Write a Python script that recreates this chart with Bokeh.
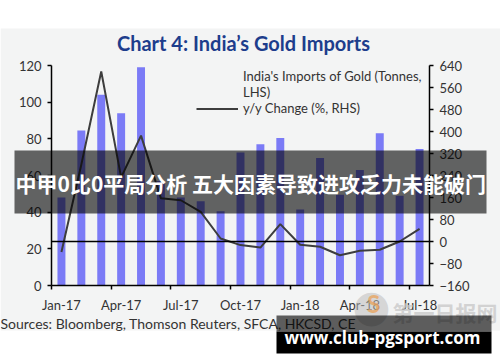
from bokeh.plotting import figure
from bokeh.models import (Range1d, LinearAxis, FixedTicker, Legend, LegendItem,
                          Label, BoxAnnotation, ColumnDataSource)
from bokeh.embed import file_html
from bokeh.resources import INLINE

# ---- data ----
months = ["Jan-17", "Feb-17", "Mar-17", "Apr-17", "May-17", "Jun-17", "Jul-17",
          "Aug-17", "Sep-17", "Oct-17", "Nov-17", "Dec-17", "Jan-18", "Feb-18",
          "Mar-18", "Apr-18", "May-18", "Jun-18", "Jul-18"]
imports_tonnes = [48, 84.5, 104, 94, 119, 57, 48, 46, 40.5, 72.5, 77, 80.5,
                  41.5, 69.5, 49.5, 63, 83, 49, 74.5]
yoy_change = [-38, 280, 618, 233, 385, 157, 150, 108, 11, -13, -22, 63,
              -12, -19, -50, -34, -30, 0, 46]
left_ticks = [0, 20, 40, 60, 80, 100, 120]
right_ticks = [-160, -80, 0, 80, 160, 240, 320, 400, 480, 560, 640]
label_step = 3

title_text = "Chart 4: India\u2019s Gold Imports"
legend_bar = "India's Imports of Gold (Tonnes,\nLHS)"
legend_line = "y/y Change (%, RHS)"
source_text = "Sources: Bloomberg, Thomson Reuters, SFCA, HKCSD, CE"
banner_text = "中甲0比0平局分析 五大因素导致进攻乏力未能破门"
site_text = "www.club-pgsport.com"
logo_text = "第一日报网"

BAR = "#7B7BF6"
LINE = "#3D3D3D"
BG = "#F3F4F4"
FONT = "Lato"

# ---- layout (pixels): chart area of the reference ----
W, H = 500, 362
FL, FT, FW, FH = 51, 65, 378, 220
LX0, LX1 = -0.5, len(months) - 0.5
LY0, LY1 = left_ticks[0], left_ticks[-1]
RY0, RY1 = right_ticks[0], right_ticks[-1]

def X(px):
    return LX0 + (px - FL) * (LX1 - LX0) / FW

def Y(py):
    return LY0 + (FT + FH - py) * (LY1 - LY0) / FH

def R(py):
    return RY0 + (FT + FH - py) * (RY1 - RY0) / FH

idx = list(range(len(months)))
src = ColumnDataSource(dict(idx=idx, month=months, imports=imports_tonnes, yoy=yoy_change))

p = figure(width=W, height=H, output_backend="svg", toolbar_location=None,
           x_range=Range1d(X(0), X(W)), y_range=Range1d(Y(H), Y(0)),
           x_axis_type=None, y_axis_type=None, min_border=0)
p.title.visible = False
p.extra_y_ranges = {"rhs": Range1d(R(H), R(0))}
p.background_fill_color = "white"
p.border_fill_color = "white"
p.outline_line_color = None

def box(l, r, t, b, **kw):
    return BoxAnnotation(left=X(l), right=X(r), top=Y(t), bottom=Y(b), line_color=None, **kw)

# grey chart panel
p.add_layout(box(0, W, 28, 330, fill_color=BG, fill_alpha=1, level="underlay"))

bars = p.vbar(x="idx", top="imports", bottom=0, width=0.4, source=src,
              fill_color=BAR, line_color=None)
line = p.line(x="idx", y="yoy", source=src, y_range_name="rhs",
              line_color=LINE, line_width=2)
# zero line of the right-hand scale, across the category span
p.segment(x0=[LX0], x1=[LX1], y0=[0], y1=[0], y_range_name="rhs",
          line_color="black", line_width=1.5)

# axes
def style_axis(ax):
    ax.axis_line_color = "black"
    ax.axis_line_width = 1.5
    ax.major_tick_line_color = "black"
    ax.major_tick_line_width = 1.5
    ax.major_tick_out = 4
    ax.major_tick_in = 0
    ax.minor_tick_line_color = None
    ax.major_label_text_font = FONT
    ax.major_label_text_font_size = "13px"
    ax.major_label_text_color = "#333333"
    ax.major_label_standoff = 6

yl = LinearAxis(ticker=FixedTicker(ticks=left_ticks), fixed_location=LX0,
                bounds=(LY0, LY1))
style_axis(yl)
p.add_layout(yl, "left")
yr = LinearAxis(y_range_name="rhs", ticker=FixedTicker(ticks=right_ticks),
                fixed_location=LX1, bounds=(RY0, RY1))
style_axis(yr)
p.add_layout(yr, "right")

major = idx[::label_step]
minor = [i - 0.5 for i in major]
xb = LinearAxis(ticker=FixedTicker(ticks=major, minor_ticks=minor),
                major_label_overrides={i: months[i] for i in major},
                fixed_location=LY0, bounds=(LX0, LX1))
style_axis(xb)
xb.major_tick_line_color = None
xb.major_tick_out = 0
xb.minor_tick_line_color = "black"
xb.minor_tick_line_width = 1.5
xb.minor_tick_out = 4
xb.minor_tick_in = 0
xb.major_label_standoff = 7
p.add_layout(xb, "below")

# legend
bar_swatch = p.line(x=[], y=[], line_color=BAR, line_width=6)
legend = Legend(items=[LegendItem(label=legend_bar, renderers=[bar_swatch]),
                       LegendItem(label=legend_line, renderers=[line])],
                location=(196, H - 116), glyph_width=42, glyph_height=15,
                label_text_font=FONT, label_text_font_size="13px",
                label_text_color="#333333", label_standoff=5, spacing=0,
                padding=0, margin=0, border_line_color=None, background_fill_alpha=0)
p.add_layout(legend)

# texts
def label(px, py, text, **kw):
    return Label(x=X(px), y=Y(py), text=text, text_baseline="middle", **kw)

p.add_layout(label(243, 42, title_text, text_align="center", text_font=FONT,
                   text_font_style="bold", text_font_size="20px", text_color="#1D3D8C"))
p.add_layout(label(0, 323, source_text, text_align="left", text_font=FONT,
                   text_font_size="14px", text_color="#333333"))

# overlay banner
p.add_layout(box(14, 486, 150, 213, fill_color="black", fill_alpha=0.6, level="overlay"))
p.add_layout(label(15, 182, banner_text, text_align="left", text_font="Noto Sans CJK SC",
                   text_font_style="bold", text_font_size="21px",
                   text_color="white", level="overlay"))

# watermark logo
p.add_layout(label(371, 305, "\u25CF", text_align="center", text_font="DejaVu Sans",
                   text_font_size="44px", text_color="#BDBDBD", text_alpha=0.55,
                   level="overlay"))
p.add_layout(label(373, 303, "S", text_align="center", text_font=FONT,
                   text_font_style="bold", text_font_size="24px",
                   text_color="#E9A25A", text_alpha=0.75, level="overlay"))
p.add_layout(label(392, 311, logo_text, text_align="left", text_font="Noto Sans CJK SC",
                   text_font_style="bold", text_font_size="21px",
                   text_color="#C9C9C9", text_alpha=0.8, level="overlay"))
p.add_layout(box(276, 491, 315, 331, fill_color="black", fill_alpha=0.62, level="overlay"))
p.add_layout(box(276, 491, 331, 353, fill_color="black", fill_alpha=1, level="overlay"))
p.add_layout(label(382, 337, site_text, text_align="center", text_font="Open Sans",
                   text_font_style="bold", text_font_size="17px",
                   text_color="white", level="overlay"))

open("out.html", "w").write(file_html(p, INLINE))
